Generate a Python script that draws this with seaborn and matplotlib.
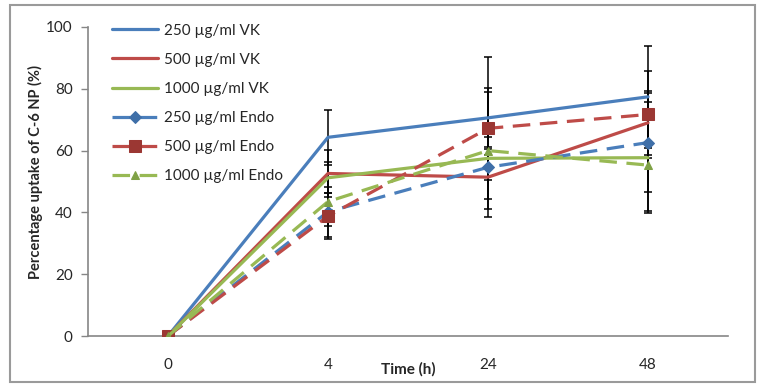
import numpy as np
import pandas as pd
import seaborn as sns
import matplotlib.pyplot as plt
from matplotlib.patches import Rectangle

# time points (categorical axis)
times = ['0', '4', '24', '48']

series_names = ['250 µg/ml VK', '500 µg/ml VK', '1000 µg/ml VK',
                '250 µg/ml Endo', '500 µg/ml Endo', '1000 µg/ml Endo']

# mean uptake (%)
vk_250 = [0, 64.3, 70.6, 77.4]
vk_500 = [0, 52.6, 51.4, 69.0]
vk_1000 = [0, 51.2, 57.5, 57.7]
endo_250 = [0, 40.2, 54.6, 62.6]
endo_500 = [0, 38.8, 67.2, 71.7]
endo_1000 = [0, 43.5, 60.0, 55.3]

# error bars (+/-)
err_vk_250 = [0, 9.0, 9.5, 16.6]
err_vk_500 = [0, 7.5, 13.0, 10.4]
err_vk_1000 = [0, 5.0, 3.0, 18.0]
err_endo_250 = [0, 8.0, 4.0, 16.0]
err_endo_500 = [0, 7.5, 23.0, 14.2]
err_endo_1000 = [0, 8.0, 19.0, 15.0]

means = [vk_250, vk_500, vk_1000, endo_250, endo_500, endo_1000]
errs = [err_vk_250, err_vk_500, err_vk_1000, err_endo_250, err_endo_500, err_endo_1000]

blue, red, green = '#4A7EBB', '#BE4B48', '#98B954'
colors = [blue, red, green, blue, red, green]
styles = ['-', '-', '-', '--', '--', '--']
markers = [None, None, None, 'D', 's', '^']
msizes = [0, 0, 0, 6, 8.5, 6]
mcolors = [blue, red, green, '#3F6FA8', '#9B3733', '#7FA145']

sns.set_style('white')
plt.rcParams['font.family'] = ['Lato', 'DejaVu Sans']

fig = plt.figure(figsize=(7.66, 3.86), dpi=100)
ax = fig.add_axes([88 / 766, 1 - 336 / 386, 640 / 766, 309 / 386])

x = np.arange(len(times))

# error bars first, black
for m, e in zip(means, errs):
    ax.errorbar(x[1:], m[1:], yerr=e[1:], fmt='none', ecolor='black',
                elinewidth=1.1, capsize=3, capthick=1.1, zorder=2)

for name, m, c, ls, mk, ms, mc in zip(series_names, means, colors, styles,
                                      markers, msizes, mcolors):
    df = pd.DataFrame({'time': x, 'uptake': m})
    kw = {}
    if mk:
        kw = dict(marker=mk, markersize=ms, markerfacecolor=mc,
                  markeredgecolor=mc)
    sns.lineplot(data=df, x='time', y='uptake', ax=ax, color=c, linestyle=ls,
                 linewidth=2.3, label=name, zorder=3, **kw)

for line in ax.get_lines():
    if line.get_linestyle() == '--':
        line.set_dashes([5.5, 3])

ax.set_xlim(-0.5, 3.5)
ax.set_ylim(0, 100)
ax.set_yticks([0, 20, 40, 60, 80, 100])
ax.set_xticks(x)
ax.set_xticklabels(times)
ax.set_xticks(np.arange(-0.5, 4, 1), minor=True)
ax.tick_params(axis='x', which='major', length=0, pad=16, labelsize=11)
ax.tick_params(axis='x', which='minor', length=5, width=1, color='#868686',
               direction='out')
ax.tick_params(axis='y', length=5, width=1, color='#868686', direction='out',
               labelsize=11, left=True, pad=6)

for s in ['top', 'right']:
    ax.spines[s].set_visible(False)
for s in ['left', 'bottom']:
    ax.spines[s].set_color('#868686')
    ax.spines[s].set_linewidth(1.2)

ax.set_xlabel('Time (h)', fontsize=11, fontweight='bold')
ax.xaxis.set_label_coords(0.5, -0.085)
ax.set_ylabel('Percentage uptake of C-6 NP (%)', fontsize=10.5, fontweight='bold')
ax.yaxis.set_label_coords(-0.07, 0.53)

leg = ax.legend(loc='upper left', bbox_to_anchor=(0.037, 1.011), frameon=False,
                fontsize=11, handlelength=3.0, labelspacing=0.99,
                borderpad=0, borderaxespad=0, handletextpad=0.4)

# outer chart border
fig.patches.append(Rectangle((10 / 766, 4 / 386), 745 / 766, 377 / 386,
                             transform=fig.transFigure, fill=False,
                             edgecolor='#9A9A9A', linewidth=1.5))

fig.savefig('out.png', dpi=100)
